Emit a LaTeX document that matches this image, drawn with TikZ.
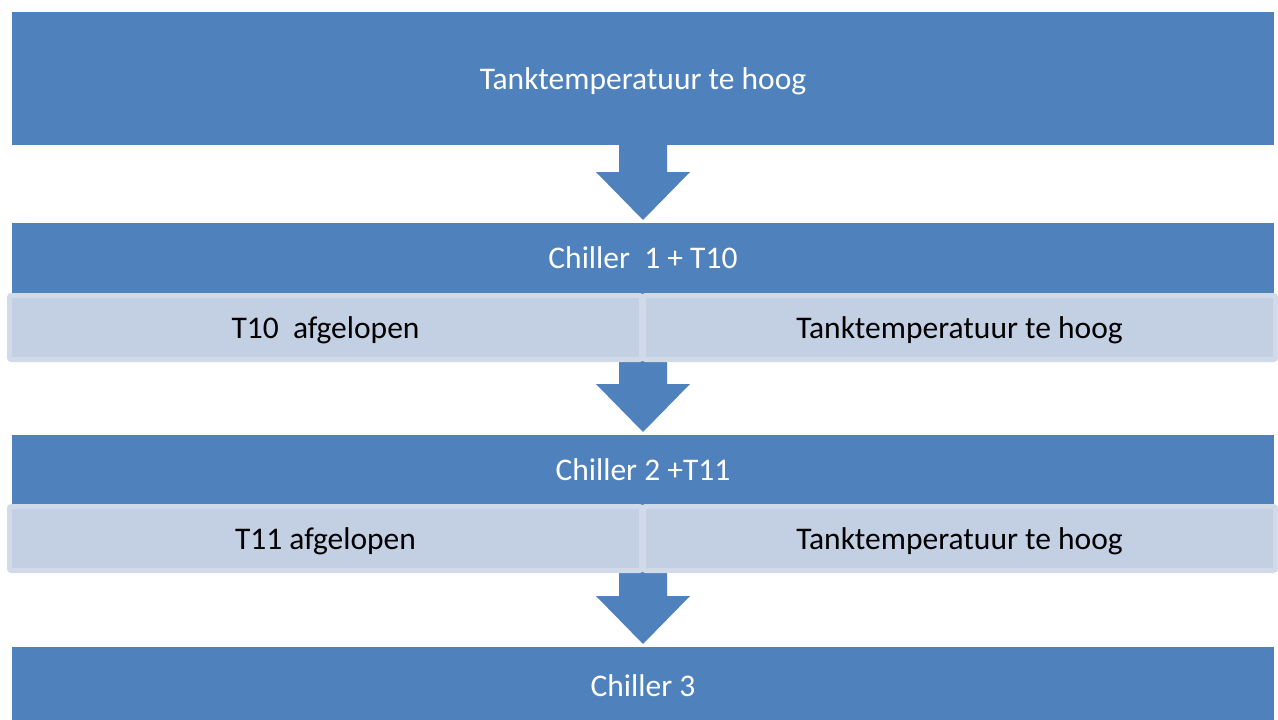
\documentclass[tikz,border=0pt]{standalone}
\usepackage{fontspec}
\setmainfont{Carlito}
\usetikzlibrary{calc}
\definecolor{boxblue}{HTML}{4F81BD}
\definecolor{paneblue}{HTML}{C3CFE3}
\definecolor{paneedge}{HTML}{D1DAE9}
% block arrow pointing down from a node's south side to just above another node
\newcommand\downflow[2]{%
  \path[flow] ($(#1.south)+(-24,0)$) -- ($(#2.north)+(-24,-51)$)
    -- ($(#2.north)+(-47,-51)$) -- ($(#2.north)+(0,-3)$)
    -- ($(#2.north)+(47,-51)$) -- ($(#2.north)+(24,-51)$)
    -- ($(#1.south)+(24,0)$) -- cycle;}
\begin{document}
\begin{tikzpicture}[x=1pt,y=-1pt,
  label font/.style={font=\fontsize{31.5}{37}\selectfont, text depth=0pt},
  stage/.style={fill=boxblue, text=white, minimum width=1262pt,
    inner sep=0pt, outer sep=0pt, label font},
  pane/.style={fill=paneblue, draw=paneedge, line width=5pt,
    rounded corners=2pt, minimum width=632pt, minimum height=64pt,
    inner sep=0pt, outer sep=0pt, text=black, label font},
  flow/.style={fill=boxblue}]
\fill[white] (0,0) rectangle (1278,720);
\useasboundingbox (0,0) rectangle (1278,720);
\clip (0,0) rectangle (1278,720);

% stages
\node[stage, minimum height=133pt] (top) at (643,78.5) {Tanktemperatuur te hoog};
\node[stage, minimum height=70pt]  (c1)  at (643,258)  {Chiller\ \ 1 + T10};
\node[stage, minimum height=69pt]  (c2)  at (643,469.5) {Chiller 2 +T11};
\node[stage, minimum height=78pt]  (c3)  at (643,686)  {Chiller 3};

% arrows between stages
\downflow{top}{c1}
\downflow{c1}{c2}
\downflow{c2}{c3}

% condition panes
\node[pane] (l1) at (325.5,327.5) {T10\ \ afgelopen};
\node[pane] (r1) at (959.5,327.5) {Tanktemperatuur te hoog};
\node[pane] (l2) at (325.5,538.5) {T11 afgelopen};
\node[pane] (r2) at (959.5,538.5) {Tanktemperatuur te hoog};
\end{tikzpicture}
\end{document}
